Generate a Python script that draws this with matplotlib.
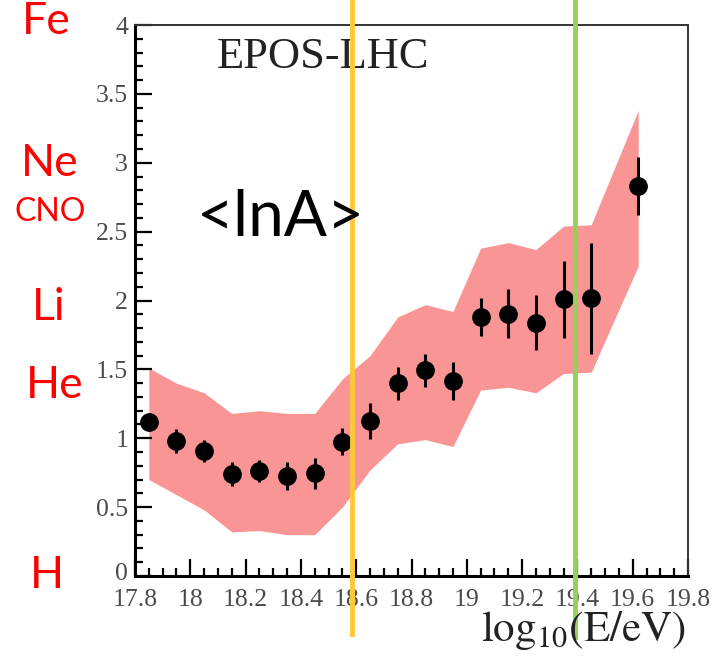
import matplotlib
matplotlib.use("Agg")
import matplotlib.pyplot as plt
from matplotlib.ticker import MultipleLocator, FormatStrFormatter
import matplotlib.transforms as mtransforms
import numpy as np

# <lnA> vs energy, EPOS-LHC
log_e = [17.85, 17.95, 18.05, 18.15, 18.25, 18.35, 18.45, 18.55, 18.65,
         18.75, 18.85, 18.95, 19.05, 19.15, 19.25, 19.35, 19.45, 19.62]
ln_a = [1.12, 0.98, 0.91, 0.74, 0.765, 0.725, 0.745, 0.975, 1.125,
        1.40, 1.495, 1.415, 1.88, 1.905, 1.84, 2.01, 2.015, 2.83]
ln_a_err = [0.02, 0.085, 0.08, 0.09, 0.08, 0.10, 0.11, 0.10, 0.13,
            0.12, 0.12, 0.14, 0.14, 0.175, 0.20, 0.28, 0.40, 0.21]
# systematic band
sys_hi = [1.51, 1.40, 1.33, 1.18, 1.20, 1.18, 1.18, 1.43, 1.60,
          1.88, 1.97, 1.92, 2.38, 2.42, 2.37, 2.54, 2.55, 3.38]
sys_lo = [0.70, 0.59, 0.48, 0.32, 0.33, 0.30, 0.30, 0.50, 0.77,
          0.96, 0.99, 0.94, 1.35, 1.37, 1.33, 1.47, 1.48, 2.25]

# energy markers
vlines_x = [18.585, 19.39]
vlines_col = ["#FFC83A", "#95D05A"]

# nuclei on the left, placed at ln(A)
nuclei = ["H", "He", "Li", "CNO", "Ne", "Fe"]
mass_num = [1, 4, 7, 14, 20, 56]
nuc_x = [47, 55, 49, 50, 50, 46]  # pixel x of label centres
nuc_size = [32, 32, 32, 23, 32, 32]

W, H = 717, 669
plt.rcParams["mathtext.fontset"] = "stix"
fig = plt.figure(figsize=(W / 100, H / 100), dpi=100)
ax = fig.add_axes([135 / W, 93 / H, 553 / W, 551 / H])

ax.fill_between(log_e, sys_lo, sys_hi, color="#F99594", lw=0, zorder=1)
ax.errorbar(log_e, ln_a, yerr=ln_a_err, fmt="o", color="black",
            ms=12.5, elinewidth=2.2, capsize=0, zorder=3)

ax.set_xlim(17.8, 19.8)
ax.set_ylim(0, 4)
ax.xaxis.set_major_locator(MultipleLocator(0.2))
ax.xaxis.set_minor_locator(MultipleLocator(0.05))
ax.yaxis.set_major_locator(MultipleLocator(0.5))
ax.yaxis.set_minor_locator(MultipleLocator(0.1))
ax.xaxis.set_major_formatter(FormatStrFormatter("%g"))
ax.yaxis.set_major_formatter(FormatStrFormatter("%g"))

ax.tick_params(which="both", direction="in", top=False, right=False,
               colors="black", labelcolor="#4a4a4a", labelsize=18.5)
ax.tick_params(which="major", length=12, width=1.6)
ax.tick_params(which="minor", length=6, width=1.6)
ax.tick_params(axis="x", pad=9)
ax.tick_params(axis="y", pad=5)
for lab in ax.get_xticklabels() + ax.get_yticklabels():
    lab.set_family("Liberation Serif")

ax.spines["left"].set_linewidth(2.2)
ax.spines["bottom"].set_linewidth(2.2)
ax.spines["top"].set_linewidth(1.4)
ax.spines["right"].set_linewidth(1.4)
ax.spines["top"].set_color("#333333")
ax.spines["right"].set_color("#333333")

ax.text(0.34, 0.942, "EPOS-LHC", transform=ax.transAxes, ha="center",
        va="center", fontsize=32, family="Liberation Serif", color="#222222")
fig.text(281 / W, 1 - 218 / H, "<lnA>", ha="center", va="center",
         fontsize=46, family="Lato", color="black")

fig.text(686 / W, 1 - 641 / H, r"$\mathrm{log_{10}(E/eV)}$", ha="right",
         va="baseline", fontsize=31, color="#222222")

for xv, c, y0 in zip(vlines_x, vlines_col, [-0.105, -0.111]):
    ax.axvline(xv, ymin=y0, ymax=1.05, color=c, lw=3.5, clip_on=False,
               zorder=5)

trans = mtransforms.blended_transform_factory(fig.transFigure, ax.transData)
for name, a, xp, fs in zip(nuclei, mass_num, nuc_x, nuc_size):
    fig.text(xp / W, np.log(a), name, transform=trans, ha="center",
             va="center", fontsize=fs, family="Lato", color="#FF0000")

# lift the "0" on the y axis a little so it clears "17.8"
fig.canvas.draw()
for tick in ax.yaxis.get_major_ticks():
    if tick.get_loc() == 0:
        lab = tick.label1
        lab.set_transform(lab.get_transform() +
                          mtransforms.ScaledTranslation(0, 4 / 100,
                                                        fig.dpi_scale_trans))

fig.savefig("out.png", dpi=100)
